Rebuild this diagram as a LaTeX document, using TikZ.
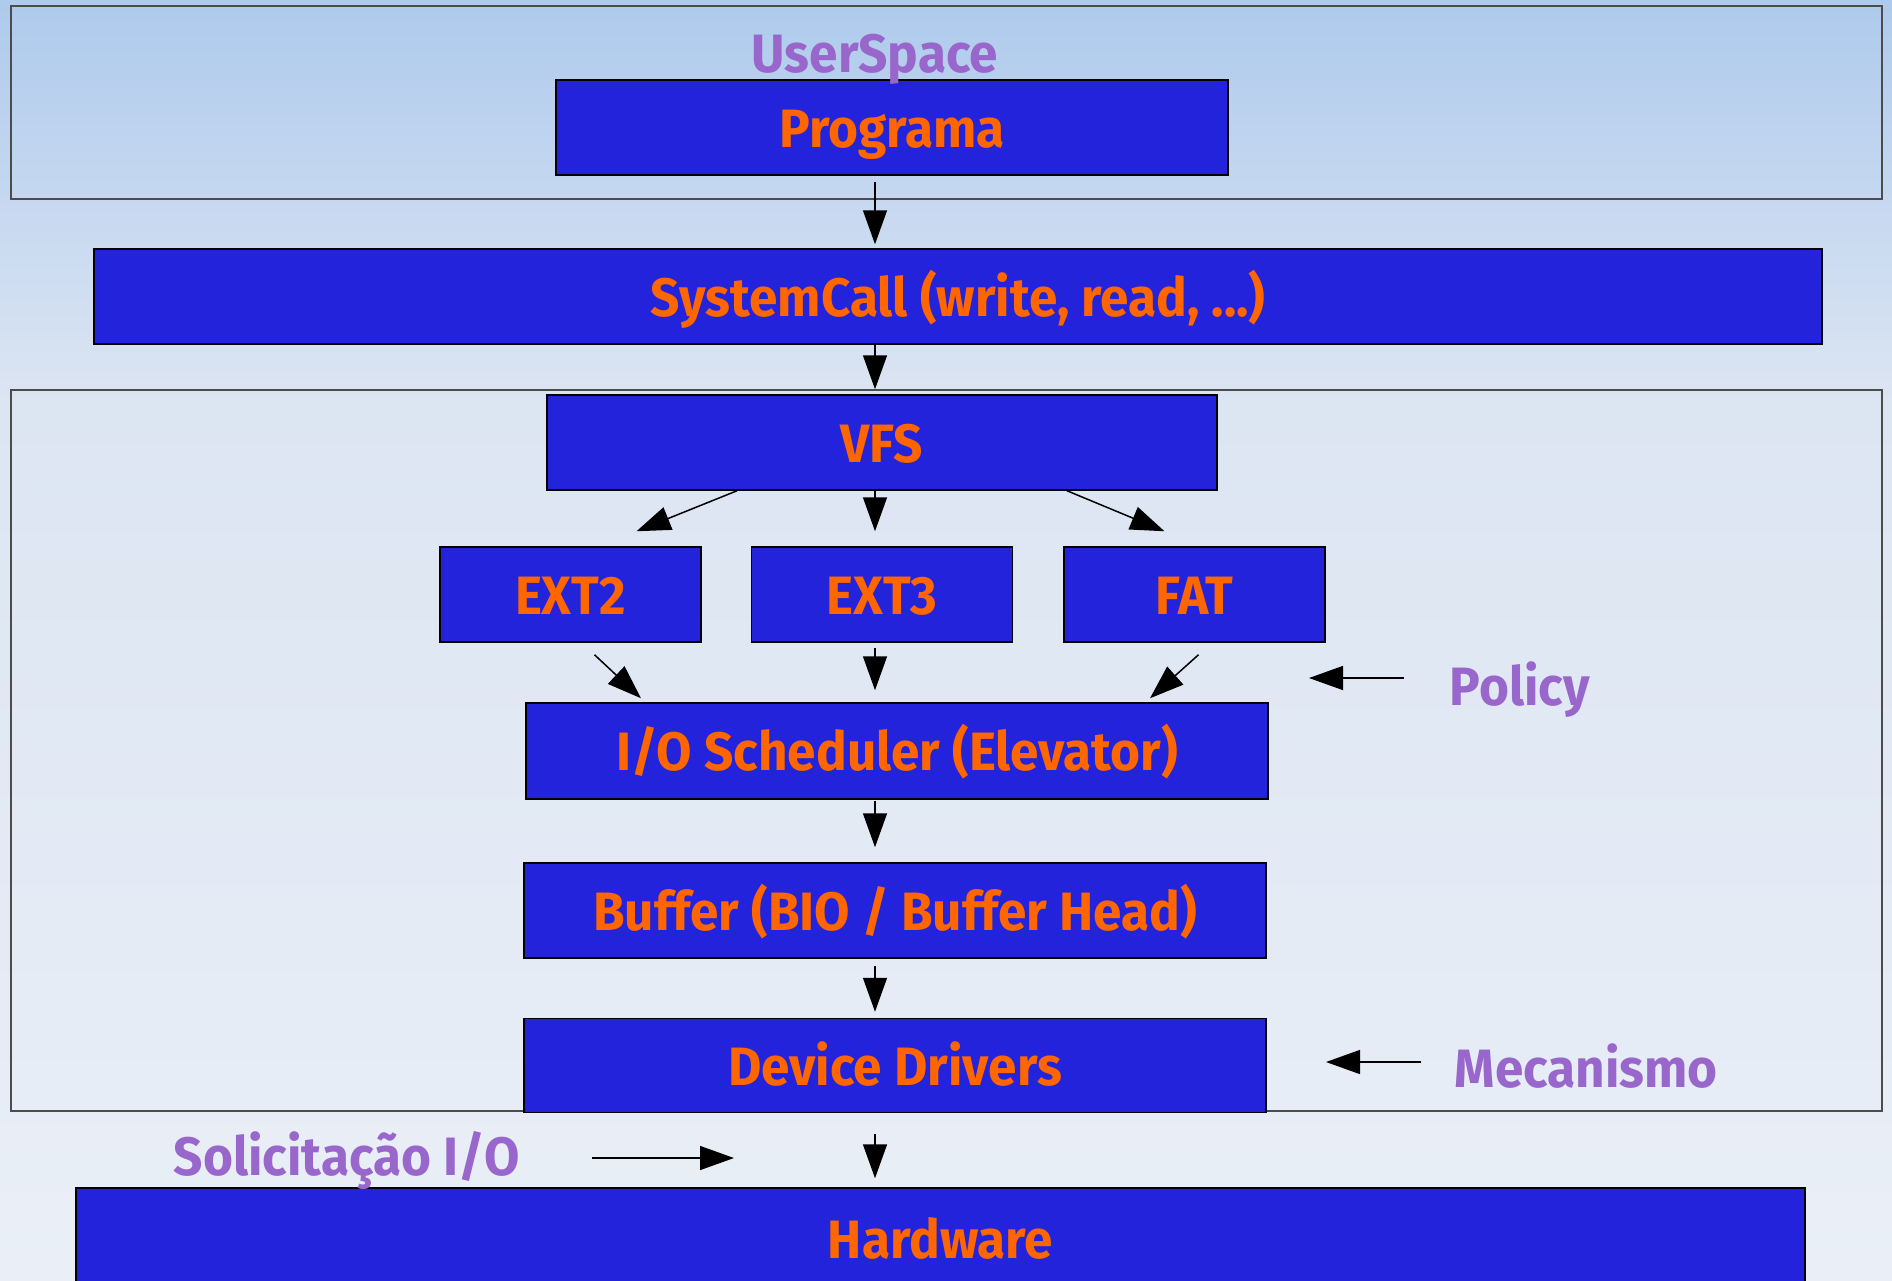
\documentclass[tikz,border=0pt]{standalone}
\usepackage{fontspec}
\setmainfont{Fira Sans}[FakeStretch=0.95]
\usetikzlibrary{arrows.meta}
\usetikzlibrary{positioning}
\definecolor{boxblue}{RGB}{35,35,219}
\definecolor{textorange}{RGB}{255,102,0}
\definecolor{notepurple}{RGB}{153,102,204}
\definecolor{bgtop}{RGB}{174,202,236}
\definecolor{bghigh}{RGB}{198,216,240}
\definecolor{bgmid}{RGB}{220,229,242}
\definecolor{bgbot}{RGB}{234,239,247}
\tikzstyle{layer} = [draw=black,line width=1.5pt,fill=boxblue,text=textorange,font=\fontsize{54}{60}\selectfont\bfseries,text height=39pt,text depth=0pt,inner sep=0pt,minimum height=95pt]
\tikzstyle{note} = [text=notepurple,font=\fontsize{54}{60}\selectfont\bfseries,anchor=base west,inner sep=0pt]
\tikzstyle{region} = [draw=black!70,line width=2pt]

\begin{document}
\begin{tikzpicture}[x=1pt,y=-1pt,>={Triangle[length=34pt,width=24pt]},line width=1.5pt]
    \useasboundingbox (0,0) rectangle (1892,1280);

      % background
      \shade[top color=bgtop,bottom color=bghigh] (0,0) rectangle (1892,201);
      \shade[top color=bghigh,bottom color=bgmid] (0,200) rectangle (1892,401);
      \shade[top color=bgmid,bottom color=bgbot] (0,400) rectangle (1892,1280);

      \draw[region] (11,6) rectangle (1882,199);
      \draw[region] (11,390) rectangle (1882,1111);

      \node[layer,minimum width=672pt] (programa) at (892,127.5) {Programa};
      \node[layer,minimum width=1728pt] (syscall) at (958,296.5) {SystemCall (write, read, ...)};
      \node[layer,minimum width=670pt] (vfs) at (882,442.5) {VFS};
      \node[layer,minimum width=261pt] (ext2) at (570.5,594.5) {EXT2};
      \node[layer,minimum width=261pt] (ext3) [right=49pt of ext2] {EXT3};
      \node[layer,minimum width=261pt] (fat) [right=50pt of ext3] {FAT};
      \node[layer,minimum width=742pt,minimum height=96pt] (iosched) at (897,751) {I/O Scheduler (Elevator)};
      \node[layer,minimum width=742pt] (buffer) at (895,910.5) {Buffer (BIO / Buffer Head)};
      \node[layer,minimum width=742pt,minimum height=94pt] (drivers) [below=59pt of buffer] {Device Drivers};
      \node[layer,minimum width=1729pt,minimum height=102pt] (hardware) at (940.5,1239) {Hardware};

      \node[note] (userspace) at (751,72) {UserSpace};
      \node[note] (policy) at (1449,705) {Policy};
      \node[note] (mecanismo) at (1454,1087) {Mecanismo};
      \node[note] (request) at (173,1175) {Solicitação I/O};

      \coordinate (axis) at (875,0);
      \coordinate (policytip) at (1309,678);
      \coordinate (mecanismotip) at (1326,1062);
      \coordinate (requesttip) at (734,1158);

      % main stack
      \foreach \a/\b/\s/\e in {programa/syscall/6pt/4pt, syscall/vfs/0pt/5pt,
          vfs/ext3/0pt/15pt, ext3/iosched/5pt/12pt, iosched/buffer/1pt/15pt,
          buffer/drivers/7pt/6pt, drivers/hardware/21pt/9pt} {
        \draw[->,shorten <=\s,shorten >=\e] (\a.south -| axis) -- (\b.north -| axis);
      }

      % file systems
      \draw[->] ([xshift=-145pt]vfs.south) -- ([xshift=66pt,yshift=15pt]ext2.north);
      \draw[->] ([xshift=185pt]vfs.south) -- ([xshift=-30pt,yshift=15pt]fat.north);
      \draw[->] ([xshift=24pt,yshift=-12pt]ext2.south) -- ([xshift=-256pt,yshift=4pt]iosched.north);
      \draw[->] ([xshift=4pt,yshift=-12pt]fat.south) -- ([xshift=253pt,yshift=4pt]iosched.north);

      % notes
      \draw[->,shorten <=45pt] (policy.west |- policytip) -- (policytip);
      \draw[->,shorten <=33pt] (mecanismo.west |- mecanismotip) -- (mecanismotip);
      \draw[->,shorten <=72pt] (request.east |- requesttip) -- (requesttip);
    \end{tikzpicture}
\end{document}
